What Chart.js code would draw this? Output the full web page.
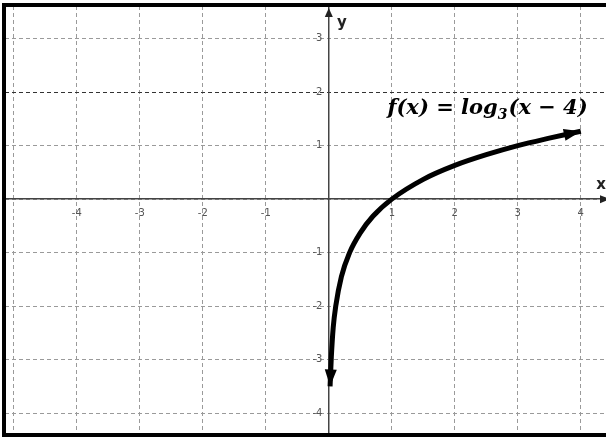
<!DOCTYPE html>
<html>

<head>
  <title>log graph</title>
  <script type="text/javascript" src="https://cdn.jsdelivr.net/npm/chart.js"></script>
  <style>
    body { margin: 0; background: #fff; }
    #chart-container { width: 606px; height: 440px; }
  </style>
</head>

<body>

  <div id="chart-container">
    <canvas id="log-chart"></canvas>
  </div>

  <script type="text/javascript">
    // values
    const curve_x = [0.02, 0.04, 0.07, 0.11, 0.2, 0.33, 0.5, 0.7, 1, 1.5, 2, 2.5, 3, 3.5, 4];
    const curve_y = [-3.5, -2.95, -2.4, -2.0, -1.45, -1.0, -0.63, -0.32, 0, 0.37, 0.63, 0.83, 1.0, 1.14, 1.27];
    const x_range = [-5.14, 4.4];
    const y_range = [-4.39, 3.61];
    const x_ticks = [-5, -4, -3, -2, -1, 0, 1, 2, 3, 4];
    const y_ticks = [-4, -3, -2, -1, 0, 1, 2, 3];
    const hidden_x_ticks = [-5, 0];
    const hidden_y_ticks = [0];
    const formula_parts = ['f(x) = log', '3', '(x \u2212 4)'];

    function Arrow(ctx, tip_x, tip_y, from_x, from_y, len, half) {
        var a = Math.atan2(tip_y - from_y, tip_x - from_x);
        ctx.beginPath();
        ctx.moveTo(tip_x, tip_y);
        ctx.lineTo(tip_x - len * Math.cos(a) + half * Math.sin(a), tip_y - len * Math.sin(a) - half * Math.cos(a));
        ctx.lineTo(tip_x - len * Math.cos(a) - half * Math.sin(a), tip_y - len * Math.sin(a) + half * Math.cos(a));
        ctx.closePath();
        ctx.fill();
    }

    const decorations = {
        id: 'decorations',
        afterDraw(chart) {
            const ctx = chart.ctx;
            const area = chart.chartArea;
            const xs = chart.scales.x;
            const ys = chart.scales.y;
            const x0 = xs.getPixelForValue(0);
            const y0 = ys.getPixelForValue(0);
            ctx.save();
            ctx.fillStyle = '#000';

            // curve arrow heads
            const n = curve_x.length;
            Arrow(ctx, xs.getPixelForValue(curve_x[0]), ys.getPixelForValue(curve_y[0]),
                  xs.getPixelForValue(curve_x[1]), ys.getPixelForValue(curve_y[1]), 17, 6);
            Arrow(ctx, xs.getPixelForValue(curve_x[n - 1]), ys.getPixelForValue(curve_y[n - 1]),
                  xs.getPixelForValue(curve_x[n - 2]), ys.getPixelForValue(curve_y[n - 2]), 17, 6);

            // axis arrows and names
            ctx.fillStyle = '#222';
            Arrow(ctx, x0, area.top + 2, x0, area.top + 20, 9, 4);
            Arrow(ctx, area.right + 4, y0, area.left, y0, 10, 4);
            ctx.font = 'bold 15px "DejaVu Sans"';
            ctx.textAlign = 'center';
            ctx.textBaseline = 'middle';
            ctx.fillText('y', x0 + 13, area.top + 17);
            ctx.fillText('x', area.right - 5, y0 - 14);

            // formula
            ctx.fillStyle = '#000';
            ctx.textAlign = 'left';
            ctx.textBaseline = 'alphabetic';
            var fx = xs.getPixelForValue(0.93);
            var fy = ys.getPixelForValue(1.6);
            ctx.font = 'italic bold 21px "DejaVu Serif"';
            ctx.fillText(formula_parts[0], fx, fy);
            fx += ctx.measureText(formula_parts[0]).width;
            ctx.font = 'italic bold 14px "DejaVu Serif"';
            ctx.fillText(formula_parts[1], fx, fy + 5);
            fx += ctx.measureText(formula_parts[1]).width + 1;
            ctx.font = 'italic bold 21px "DejaVu Serif"';
            ctx.fillText(formula_parts[2], fx, fy);

            // frame (right side is cut off in the picture)
            ctx.strokeStyle = '#000';
            ctx.lineWidth = 4;
            ctx.beginPath();
            ctx.moveTo(area.right + 5, area.top - 1);
            ctx.lineTo(area.left - 1, area.top - 1);
            ctx.lineTo(area.left - 1, area.bottom + 1);
            ctx.lineTo(area.right + 5, area.bottom + 1);
            ctx.stroke();
            ctx.restore();
        }
    };

    const points = curve_x.map((x, i) => ({ x: x, y: curve_y[i] }));
    const tick_font = { family: '"DejaVu Sans"', size: 10 };

    new Chart(document.getElementById('log-chart'), {
        type: 'scatter',
        data: {
            datasets: [{
                data: points,
                showLine: true,
                borderColor: '#000',
                borderWidth: 5,
                pointRadius: 0,
                cubicInterpolationMode: 'monotone'
            }]
        },
        options: {
            responsive: true,
            maintainAspectRatio: false,
            animation: false,
            layout: { padding: { left: 5, top: 5, right: 0, bottom: 3 } },
            plugins: {
                legend: { display: false },
                tooltip: { enabled: false }
            },
            scales: {
                x: {
                    type: 'linear',
                    position: { y: 0 },
                    min: x_range[0],
                    max: x_range[1],
                    afterBuildTicks: scale => { scale.ticks = x_ticks.map(v => ({ value: v })); },
                    grid: { color: '#9a9a9a', lineWidth: 1, drawTicks: false },
                    border: { color: '#444', width: 1.5, dash: [4, 3] },
                    ticks: {
                        padding: 8,
                        color: '#555',
                        font: tick_font,
                        maxRotation: 0,
                        callback: v => hidden_x_ticks.includes(v) ? '' : v
                    }
                },
                y: {
                    type: 'linear',
                    position: { x: 0 },
                    min: y_range[0],
                    max: y_range[1],
                    afterBuildTicks: scale => { scale.ticks = y_ticks.map(v => ({ value: v })); },
                    grid: {
                        color: ctx => ctx.tick && ctx.tick.value === 2 ? '#333' : '#9a9a9a',
                        lineWidth: 1,
                        drawTicks: false
                    },
                    border: { color: '#444', width: 1.5, dash: [4, 3] },
                    ticks: {
                        padding: 0,
                        color: '#555',
                        font: tick_font,
                        callback: v => hidden_y_ticks.includes(v) ? '' : v + '  '
                    }
                }
            }
        },
        plugins: [decorations]
    });
  </script>

</body>

</html>
